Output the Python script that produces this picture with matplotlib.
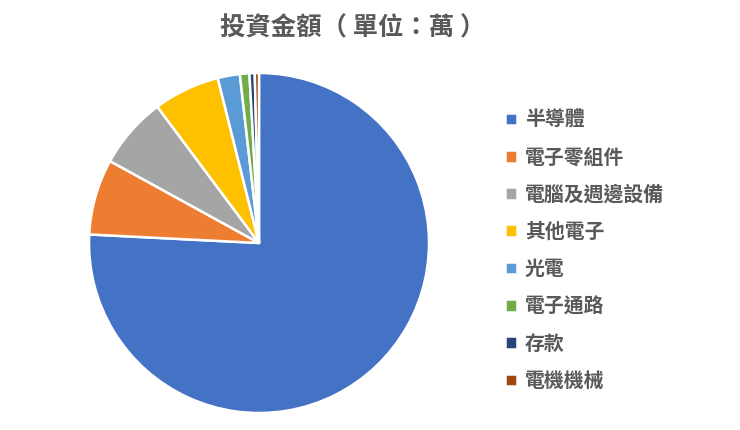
import matplotlib
matplotlib.use("Agg")
import matplotlib.pyplot as plt

plt.rcParams['font.family'] = ['Noto Sans CJK TC', 'DejaVu Sans']

# 各產業投資金額比例
categories = ['半導體', '電子零組件', '電腦及週邊設備', '其他電子',
              '光電', '電子通路', '存款', '電機機械']
values = [75.8, 7.2, 6.8, 6.3, 2.1, 0.9, 0.5, 0.4]
colors = ['#4472C4', '#ED7D31', '#A5A5A5', '#FFC000',
          '#5B9BD5', '#70AD47', '#264478', '#9E480E']

W, H = 740, 430
fig = plt.figure(figsize=(W / 100, H / 100), dpi=100)

# 圓餅圖位置（像素換算）
cx, cy, r = 259, 243, 170
ax = fig.add_axes([(cx - r) / W, (H - cy - r) / H, 2 * r / W, 2 * r / H])
wedges, _ = ax.pie(values, colors=colors, startangle=90, counterclock=False,
                   radius=1, wedgeprops=dict(edgecolor='white', linewidth=1.8))
ax.set_xlim(-1, 1)
ax.set_ylim(-1, 1)
ax.set_aspect('equal')
ax.axis('off')

fig.text(353 / W, 1 - 28 / H, '投資金額（ 單位：萬 ）', ha='center', va='center',
         fontsize=18.3, fontweight='bold', color='#595959')

leg = fig.legend(wedges, categories, loc='upper left',
                 bbox_to_anchor=(495 / W, 1 - 99 / H), frameon=False,
                 prop=dict(size=14.3, weight='bold'), labelcolor='#595959',
                 handlelength=0.6, handleheight=0.6, handletextpad=0.4,
                 labelspacing=0.82, borderpad=0)

fig.savefig('out.png', dpi=100)
